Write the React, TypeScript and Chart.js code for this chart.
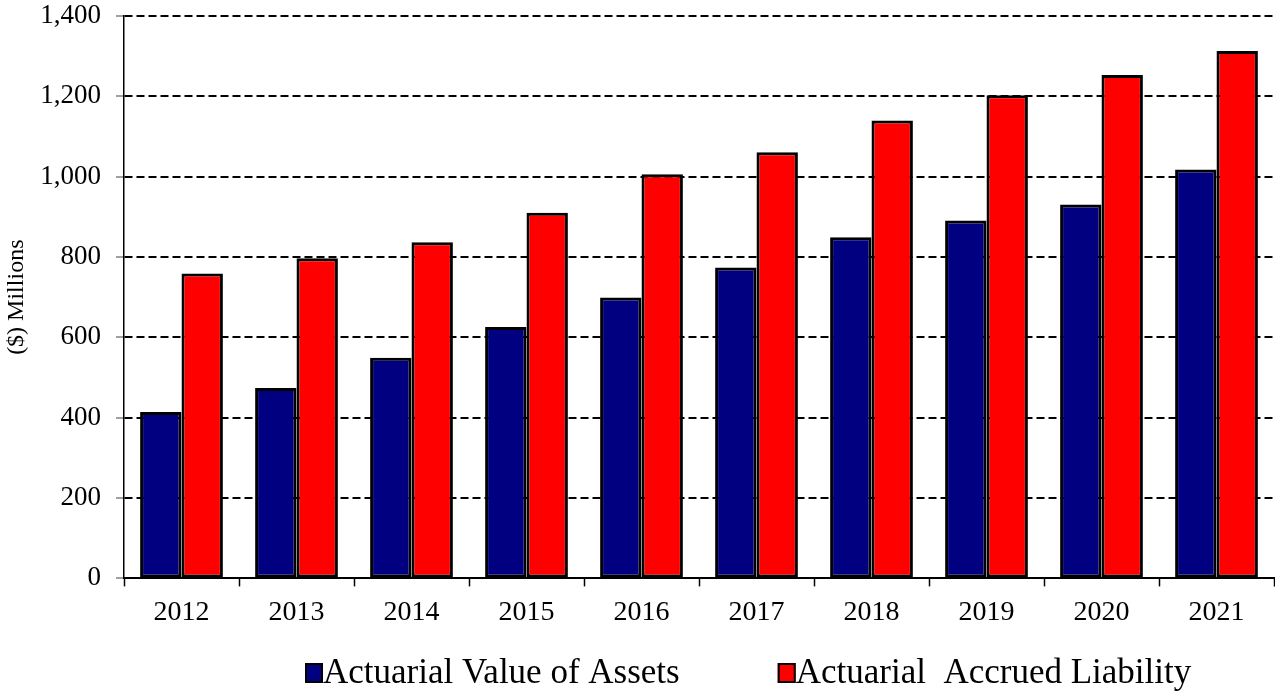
import React, { useEffect, useRef } from "react";
import { Chart, registerables } from "chart.js";

Chart.register(...registerables);

const years = ["2012", "2013", "2014", "2015", "2016", "2017", "2018", "2019", "2020", "2021"];
const assets = [414, 474, 549, 626, 699, 774, 849, 891, 931, 1018];
const liability = [759, 797, 837, 910, 1006, 1061, 1140, 1203, 1253, 1313];
const seriesNames = ["Actuarial Value of Assets", "Actuarial  Accrued Liability"];
const seriesColors = ["#000080", "#FF0000"];

const FONT = "'Liberation Serif', 'Times New Roman', serif";

const legendPlugin = {
  id: "customLegend",
  afterDraw(chart: any) {
    const ctx = chart.ctx;
    ctx.save();
    ctx.font = `35px ${FONT}`;
    ctx.textBaseline = "alphabetic";
    ctx.textAlign = "left";
    const baseY = 683;
    let x = 305;
    chart.data.datasets.forEach((ds: any) => {
      ctx.fillStyle = ds.backgroundColor;
      ctx.fillRect(x, 663, 18, 20);
      ctx.lineWidth = 2;
      ctx.strokeStyle = "#000";
      ctx.strokeRect(x + 1, 664, 16, 18);
      ctx.fillStyle = "#000";
      const text = ds.label;
      ctx.fillText(text, x + 18, baseY);
      x += 18 + ctx.measureText(text).width + 98;
    });
    ctx.restore();
  },
};

export default function App() {
  const ref = useRef<HTMLCanvasElement | null>(null);
  useEffect(() => {
    document.body.style.margin = "0";
    if (!ref.current) return;
    const chart = new Chart(ref.current, {
      type: "bar",
      data: {
        labels: years,
        datasets: [
          {
            label: seriesNames[0],
            data: assets,
            backgroundColor: seriesColors[0],
            borderColor: "#000",
            borderWidth: 3,
            borderSkipped: false,
            categoryPercentage: 0.72,
            barPercentage: 1,
          },
          {
            label: seriesNames[1],
            data: liability,
            backgroundColor: seriesColors[1],
            borderColor: "#000",
            borderWidth: 3,
            borderSkipped: false,
            categoryPercentage: 0.72,
            barPercentage: 1,
          },
        ],
      },
      options: {
        animation: false,
        responsive: false,
        layout: { padding: { top: 16, right: 1, bottom: 54, left: 0 } },
        plugins: {
          legend: { display: false },
          tooltip: { enabled: false },
        },
        scales: {
          x: {
            offset: true,
            grid: {
              offset: true,
              drawOnChartArea: false,
              drawTicks: true,
              tickLength: 8,
              tickColor: "#000",
              tickWidth: 1.5,
            },
            border: { display: true, color: "#000", width: 2, z: 1 } as any,
            ticks: {
              color: "#000",
              font: { family: FONT, size: 28 },
              padding: 9,
              maxRotation: 0,
            },
          },
          y: {
            min: 0,
            max: 1400,
            afterFit: (scale: any) => {
              scale.width = 124;
              scale.paddingTop = 0;
            },
            ticks: {
              stepSize: 200,
              color: "#000",
              font: { family: FONT, size: 27 },
              padding: 15,
              callback: (v: any) => Number(v).toLocaleString("en-US"),
            },
            grid: {
              color: "#000",
              lineWidth: 2,
              drawTicks: true,
              tickLength: 8,
              tickColor: "#808080",
              tickWidth: 1.5,
              tickBorderDash: [],
            } as any,
            border: { display: true, color: "#000", width: 1.5, dash: [8, 4] } as any,
            title: {
              display: true,
              text: "($) Millions",
              color: "#000",
              font: { family: FONT, size: 24 },
              padding: { top: 2, bottom: 4 },
            },
          },
        },
      },
      plugins: [legendPlugin],
    });
    return () => chart.destroy();
  }, []);
  return (
    <div style={{ width: 1275, height: 692 }}>
      <canvas ref={ref} width={1275} height={692} style={{ display: "block" }} />
    </div>
  );
}
